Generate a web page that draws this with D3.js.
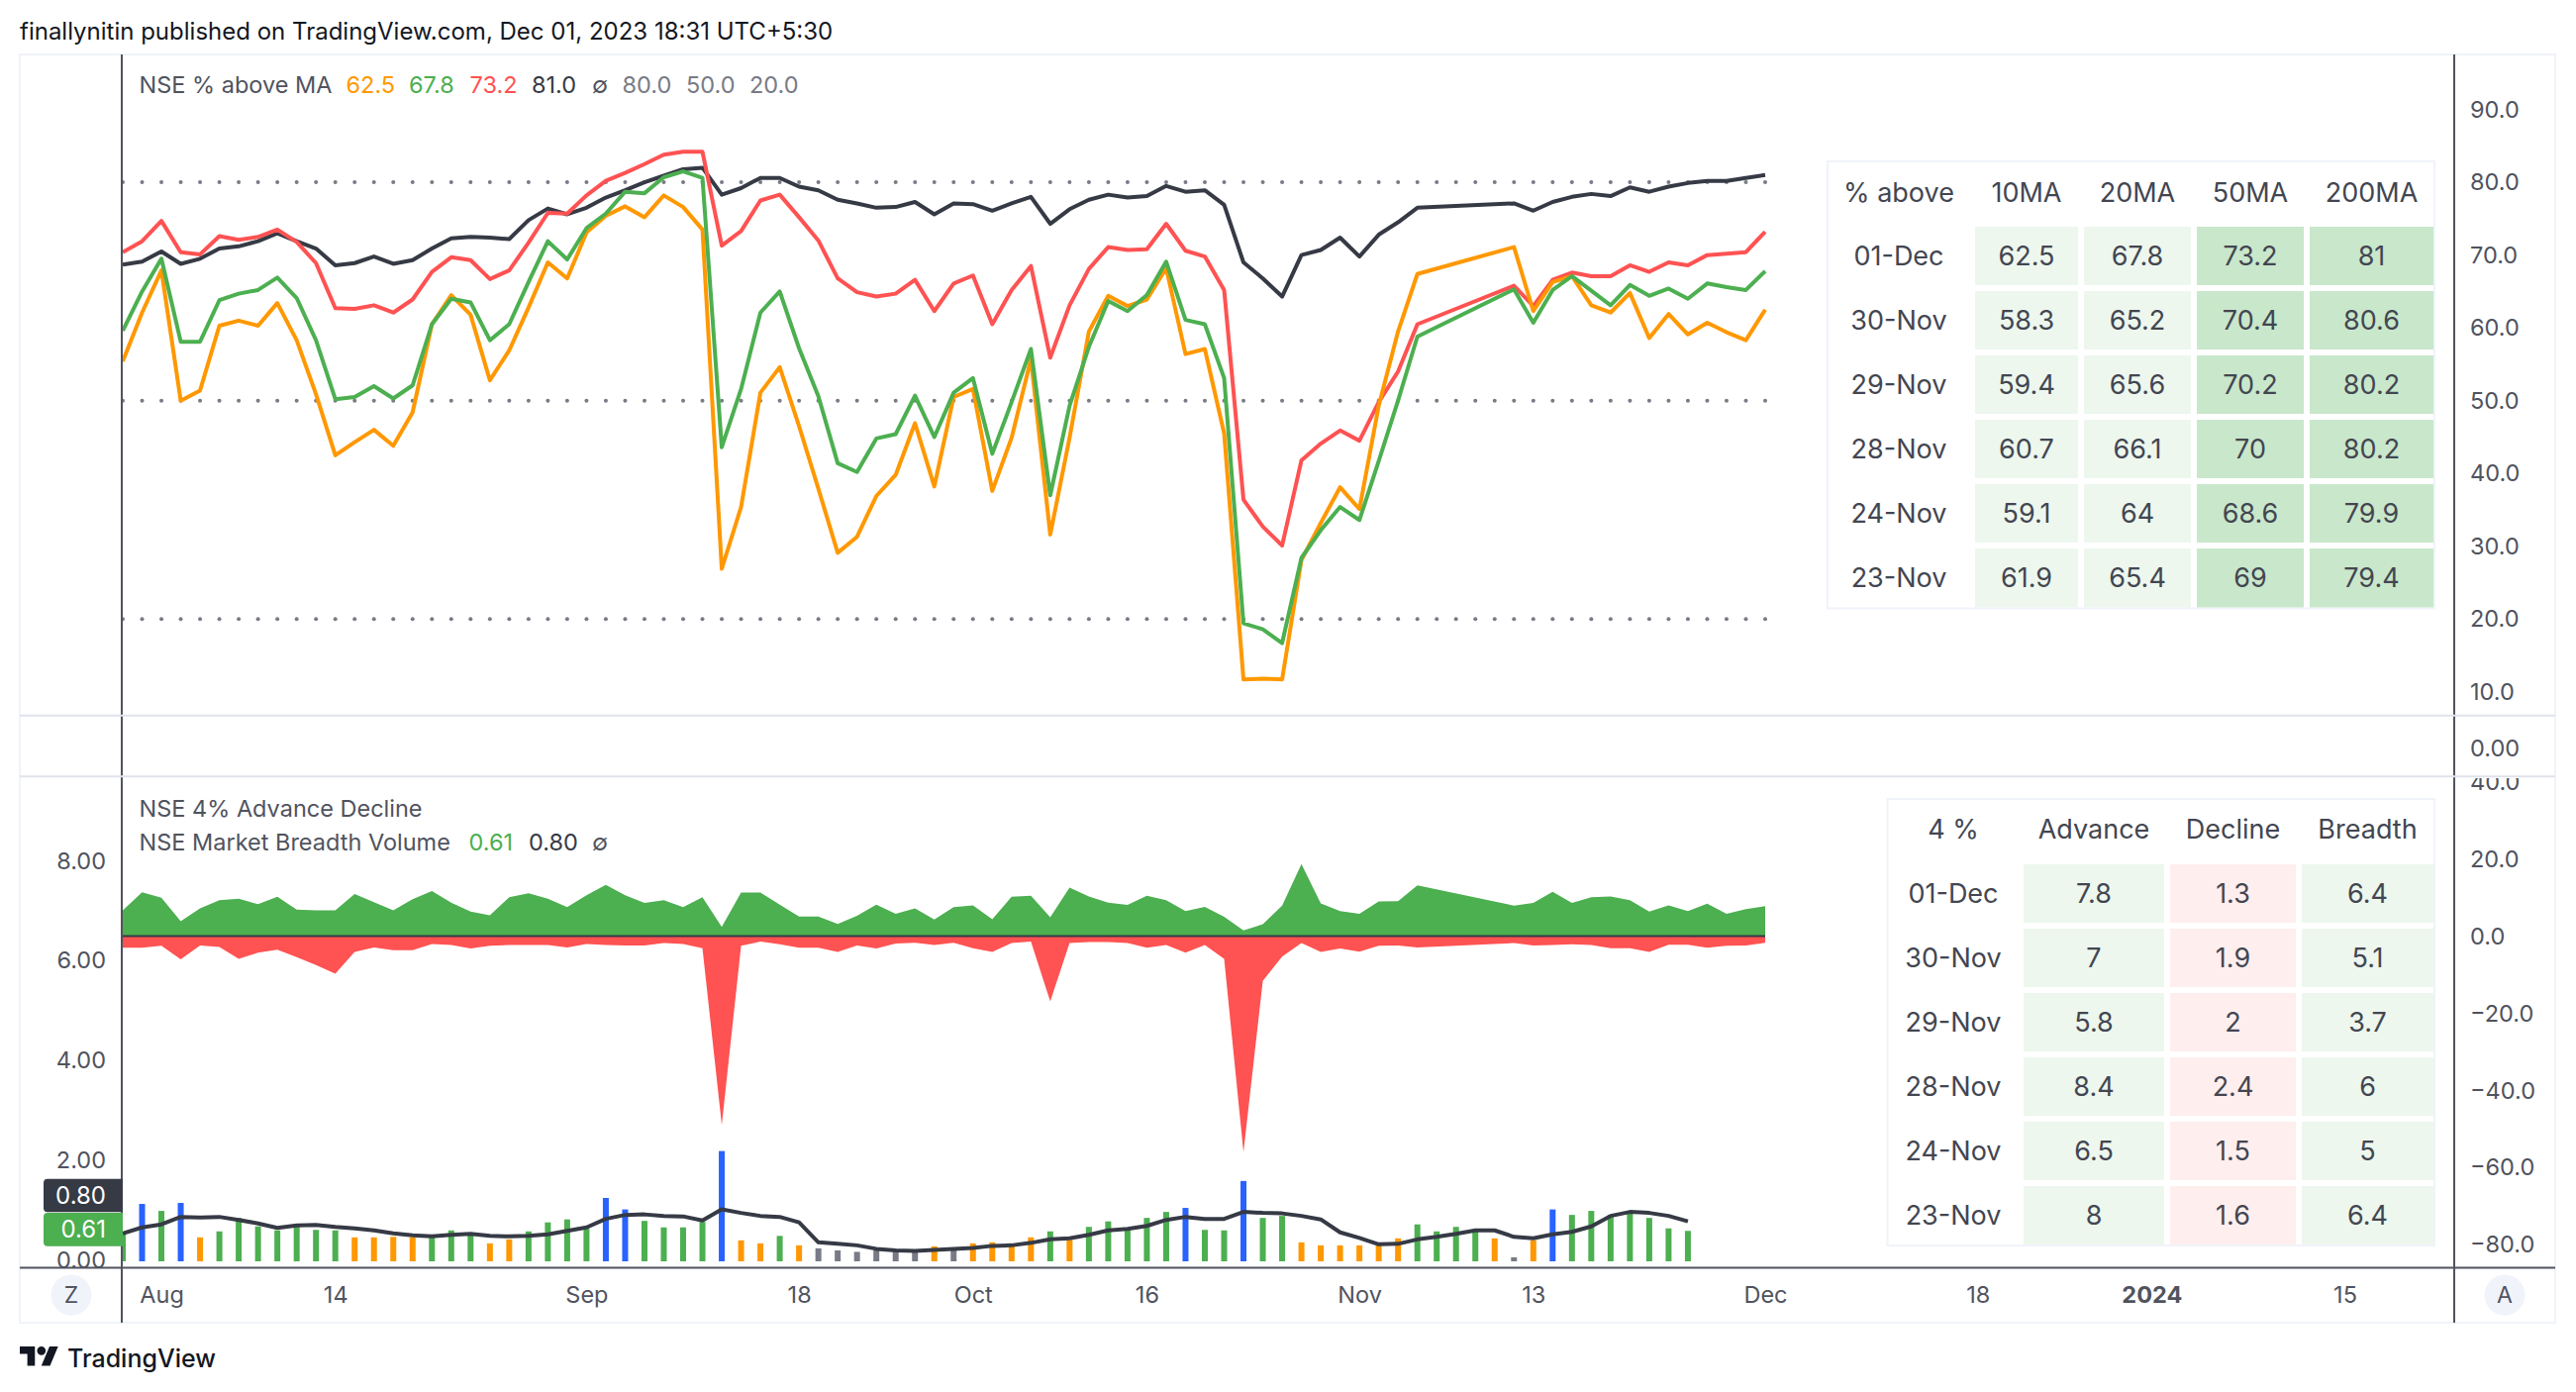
<!DOCTYPE html>
<html>
<head>
<meta charset="utf-8">
<script src="https://cdn.jsdelivr.net/npm/d3@7"></script>
<style>
  html, body { margin: 0; padding: 0; background: #fff; }
  svg { display: block; }
  text { font-family: Inter, "Noto Sans", sans-serif; }
</style>
</head>
<body>
<svg id="chart" width="2602" height="1406"></svg>
<script>
// trading days plotted in both panes; Nov 7-10 has no data in the source sheet
const days = [...d3.range(0, 68), ...d3.range(72, 86)];
const hlineDays = d3.range(0, 86);

const above10 = [
  55.4,62.1,67.9,50.0,51.4,60.3,61.0,60.3,63.4,58.3,
  50.9,42.5,44.3,46.0,43.8,48.4,60.5,64.5,61.8,52.8,
  56.9,62.8,69.0,66.8,73.1,75.4,76.7,75.2,78.2,76.6,
  73.5,26.9,35.4,51.1,54.6,46.5,37.9,29.1,31.3,36.9,
  39.8,46.9,38.2,50.5,51.6,37.6,44.9,55.7,31.6,44.9,
  59.5,64.4,63.0,63.9,68.2,56.4,57.1,45.5,11.7,11.8,
  11.7,28.1,33.2,38.1,35.1,49.3,59.5,67.4,
  71.1,62.3,66.3,67.1,63.1,62.1,64.8,58.6,
  61.9,59.1,60.7,59.4,58.3,62.5];
const above20 = [
  59.6,65.0,69.5,58.1,58.1,63.8,64.7,65.2,66.9,64.1,
  58.3,50.2,50.5,52.0,50.3,52.1,60.5,64.0,63.5,58.3,
  60.5,66.3,71.9,69.4,73.7,75.7,78.7,78.5,80.7,81.5,
  80.6,43.6,51.6,62.1,65.0,57.2,50.6,41.4,40.2,44.8,
  45.4,50.7,45.0,51.1,53.1,42.7,49.8,57.1,37.0,49.3,
  57.4,63.7,62.3,64.5,69.1,61.1,60.5,53.1,19.4,18.6,
  16.7,28.4,32.2,35.4,33.6,41.7,50.0,58.8,
  65.3,60.7,65.2,67.1,65.1,63.1,65.9,64.4,
  65.4,64,66.1,65.6,65.2,67.8];
const above50 = [
  70.4,71.9,74.7,70.4,70.1,72.6,72.1,72.5,73.5,71.8,
  68.9,62.7,62.6,63.1,62.1,63.9,67.7,69.7,69.3,66.7,
  67.9,71.7,75.8,75.7,78.2,80.2,81.3,82.5,83.8,84.2,
  84.2,71.3,73.3,77.5,78.3,75.2,72.0,66.8,64.9,64.3,
  64.7,66.6,62.3,66.1,67.2,60.5,65.2,68.5,55.9,63.1,
  68.1,71.1,70.7,70.8,74.3,70.6,69.8,65.2,36.4,32.7,
  30.1,41.8,44.1,45.9,44.5,49.8,54.0,60.5,
  65.8,63.0,66.6,67.6,67.1,67.1,68.6,67.7,
  69,68.6,70,70.2,70.4,73.2];
const above200 = [
  68.7,69.1,70.5,68.8,69.5,70.9,71.2,71.9,73.0,71.9,
  70.9,68.6,68.9,69.8,68.8,69.3,70.9,72.3,72.5,72.4,
  72.2,74.8,76.4,75.6,76.5,77.9,78.9,80.0,80.9,81.8,
  82.0,78.3,79.2,80.6,80.6,79.4,78.9,77.6,77.1,76.5,
  76.6,77.3,75.6,77.1,77.0,76.1,77.1,78.0,74.3,76.3,
  77.6,78.3,77.9,78.1,79.5,78.7,78.9,76.9,69.0,66.8,
  64.3,70.0,70.7,72.4,69.8,72.8,74.5,76.5,
  77.1,76.1,77.3,78.0,78.4,78.1,79.3,78.7,
  79.4,79.9,80.2,80.2,80.6,81.0];
const hlineLevels = [80, 50, 20];

const advance = [
  6.7,11.4,10.0,3.9,7.2,9.3,9.7,8.3,10.2,6.9,
  6.7,6.7,10.9,8.8,6.7,9.6,11.7,8.7,6.4,5.4,
  10.1,11.1,9.7,7.5,10.6,13.3,10.6,8.6,9.3,7.5,
  10.1,2.4,11.3,11.3,8.2,5.1,5.1,3.2,5.3,8.2,
  5.8,7.2,4.3,7.5,8.0,4.4,10.2,10.5,4.9,12.6,
  10.3,8.7,8.1,10.5,9.3,6.5,7.6,5.0,1.5,3.1,
  7.9,18.7,8.5,6.5,5.8,9.0,9.1,13.2,
  7.9,8.6,11.5,8.6,10.1,10.3,9.3,6.4,
  8,6.5,8.4,5.8,7,7.8];
const decline = [
  3.0,3.0,2.5,6.0,2.4,2.8,5.9,4.3,3.5,5.4,
  7.5,9.7,4.1,2.9,3.6,3.6,2.0,2.3,3.2,2.5,
  2.3,2.3,2.3,2.9,2.0,2.3,2.4,2.4,1.8,2.0,
  3.1,48.9,2.5,1.4,2.1,3.0,3.0,4.1,2.4,3.2,
  1.9,1.7,2.3,1.7,3.1,4.1,1.8,1.4,16.9,1.8,
  1.5,1.5,1.8,3.0,2.3,4.3,2.3,5.9,56.0,11.6,
  5.3,1.8,4.1,3.2,4.0,2.5,2.4,2.9,
  1.8,2.4,2.3,2.1,2.3,3.1,3.1,4.1,
  2.2,2.2,3.0,2.5,2.4,1.7];

// volume bars run without the gap, so they end four sessions early
const breadthVol = [
  .55,1.15,1.01,1.17,.48,.60,.87,.70,.62,.72,
  .63,.62,.48,.48,.49,.48,.52,.62,.53,.36,
  .44,.60,.78,.84,.66,1.27,1.04,.81,.68,.68,
  .79,2.21,.42,.36,.51,.32,.26,.22,.19,.22,
  .22,.21,.30,.24,.36,.38,.30,.48,.60,.43,
  .69,.80,.65,.87,.99,1.07,.63,.62,1.61,.87,
  .91,.38,.32,.32,.32,.32,.46,.74,.60,.69,
  .60,.46,.08,.42,1.04,.93,1.01,.93,.99,.87,
  .66,.61];
const breadthMa = [
  .56,.68,.74,.89,.88,.89,.83,.76,.67,.72,
  .73,.69,.66,.62,.56,.52,.50,.53,.55,.51,
  .50,.51,.54,.61,.68,.85,.93,.94,.91,.90,
  .82,1.04,.97,.91,.89,.78,.38,.35,.32,.25,
  .22,.21,.23,.25,.27,.31,.32,.37,.44,.46,
  .53,.62,.65,.71,.83,.89,.85,.85,.99,.97,
  .96,.91,.84,.58,.47,.34,.35,.44,.49,.55,
  .62,.62,.49,.46,.54,.59,.70,.91,.99,.97,
  .91,.80];

const timeTicks = [2, 11, 24, 35, 44, 53, 64, 73, 85, 96, 105, 115];
const timeLabels = ['Aug', '14', 'Sep', '18', 'Oct', '16', 'Nov', '13', 'Dec', '18', '2024', '15'];
const aboveTicks = [10, 20, 30, 40, 50, 60, 70, 80, 90];
const adTicks = [-80, -60, -40, -20, 0, 20, 40];
const volTicks = [0, 2, 4, 6, 8];

const tableDates = ['01-Dec', '30-Nov', '29-Nov', '28-Nov', '24-Nov', '23-Nov'];
const maHeaders = ['% above', '10MA', '20MA', '50MA', '200MA'];
const ma10Col = [62.5, 58.3, 59.4, 60.7, 59.1, 61.9];
const ma20Col = [67.8, 65.2, 65.6, 66.1, 64, 65.4];
const ma50Col = [73.2, 70.4, 70.2, 70, 68.6, 69];
const ma200Col = [81, 80.6, 80.2, 80.2, 79.9, 79.4];
const adHeaders = ['4 %', 'Advance', 'Decline', 'Breadth'];
const advCol = [7.8, 7, 5.8, 8.4, 6.5, 8];
const decCol = [1.3, 1.9, 2, 2.4, 1.5, 1.6];
const breadthCol = [6.4, 5.1, 3.7, 6, 5, 6.4];

const ORANGE = '#ff9800', GREEN = '#4caf50', RED = '#ff5252', DARK = '#363a45',
  BLUE = '#2962ff', GRAY = '#787b86', AXIS = '#50535e', INK = '#434651';

const svg = d3.select('#chart');
const defs = svg.append('defs');
const clip = (id, x, y, w, h) =>
  defs.append('clipPath').attr('id', id).append('rect')
    .attr('x', x).attr('y', y).attr('width', w).attr('height', h);
clip('pane1', 124, 55, 2354, 667);
clip('pane2', 124, 786, 2354, 494);
clip('rightAd', 2480, 786, 100, 494);
clip('leftVol', 21, 786, 102, 494);

const x = d3.scaleLinear().domain([0, 85]).range([124, 1783]);
const yAbove = d3.scaleLinear().domain([0, 90]).range([772.3, 110.6]);
const yEmpty = d3.scaleLinear().domain([0, 1]).range([755.5, 700]);
const yAd = d3.scaleLinear().domain([-80, 40]).range([1257.4, 789.7]);
const yVol = d3.scaleLinear().domain([0, 8]).range([1274, 870.8]);

svg.append('rect').attr('x', 20).attr('y', 55).attr('width', 2561).attr('height', 1281)
  .attr('fill', 'none').attr('stroke', '#f0f3fa').attr('stroke-width', 2);

// top pane
const topPane = svg.append('g').attr('clip-path', 'url(#pane1)');
hlineLevels.forEach(level => {
  topPane.append('g').selectAll('circle').data(hlineDays).join('circle')
    .attr('cx', d => x(d)).attr('cy', yAbove(level)).attr('r', 2).attr('fill', GRAY);
});
const lineAbove = d3.line().x((d, i) => x(days[i])).y(d => yAbove(d));
[[above200, DARK], [above50, RED], [above10, ORANGE], [above20, GREEN]].forEach(([values, color]) => {
  topPane.append('path').attr('d', lineAbove(values)).attr('fill', 'none')
    .attr('stroke', color).attr('stroke-width', 4).attr('stroke-linejoin', 'round');
});

// bottom pane
const bottomPane = svg.append('g').attr('clip-path', 'url(#pane2)');
const barColor = v => v >= 1.02 ? BLUE : v >= 0.5 ? GREEN : v >= 0.28 ? ORANGE : GRAY;
bottomPane.append('g').selectAll('rect').data(breadthVol).join('rect')
  .attr('x', (d, i) => x(i) - 3).attr('width', 6)
  .attr('y', d => yVol(d)).attr('height', d => yVol(0) - yVol(d))
  .attr('fill', barColor);
bottomPane.append('path')
  .attr('d', d3.line().x((d, i) => x(i)).y(d => yVol(d))(breadthMa))
  .attr('fill', 'none').attr('stroke', DARK).attr('stroke-width', 4).attr('stroke-linejoin', 'round');
bottomPane.append('path')
  .attr('d', d3.area().x((d, i) => x(days[i])).y0(yAd(0)).y1(d => yAd(d))(advance))
  .attr('fill', GREEN);
bottomPane.append('path')
  .attr('d', d3.area().x((d, i) => x(days[i])).y0(yAd(0)).y1(d => yAd(-d))(decline))
  .attr('fill', RED);
bottomPane.append('line').attr('x1', x(0)).attr('x2', x(85)).attr('y1', yAd(0)).attr('y2', yAd(0))
  .attr('stroke', DARK).attr('stroke-width', 2);

// axes
const styleAxis = (g, size) => {
  g.select('.domain').remove();
  g.selectAll('line').remove();
  g.selectAll('text').attr('fill', AXIS).attr('font-size', size).attr('font-family', 'Inter');
};
const rightX = 2495;
svg.append('g').attr('transform', `translate(${rightX},0)`)
  .call(d3.axisRight(yAbove).tickValues(aboveTicks).tickFormat(d3.format('.1f')).tickSize(0).tickPadding(0))
  .call(styleAxis, 23.5);
svg.append('g').attr('transform', `translate(${rightX},0)`)
  .call(d3.axisRight(yEmpty).tickValues([0]).tickFormat(d3.format('.2f')).tickSize(0).tickPadding(0))
  .call(styleAxis, 23.5);
svg.append('g').attr('clip-path', 'url(#rightAd)').append('g').attr('transform', `translate(${rightX},0)`)
  .call(d3.axisRight(yAd).tickValues(adTicks).tickFormat(d3.format('.1f')).tickSize(0).tickPadding(0))
  .call(styleAxis, 23.5);
svg.append('g').attr('clip-path', 'url(#leftVol)').append('g').attr('transform', 'translate(107,-1.2)')
  .call(d3.axisLeft(yVol).tickValues(volTicks).tickFormat(d3.format('.2f')).tickSize(0).tickPadding(0))
  .call(styleAxis, 23.5);

const timeAxis = svg.append('g').attr('transform', 'translate(0,1299)')
  .call(d3.axisBottom(x).tickValues(timeTicks).tickFormat(d => timeLabels[timeTicks.indexOf(d)]).tickSize(0).tickPadding(0))
  .call(styleAxis, 23.5);
timeAxis.selectAll('text').attr('font-weight', d => d === 105 ? 700 : 400);

svg.append('line').attr('x1', 123).attr('x2', 123).attr('y1', 55).attr('y2', 1336)
  .attr('stroke', AXIS).attr('stroke-width', 2);
svg.append('line').attr('x1', 2479).attr('x2', 2479).attr('y1', 55).attr('y2', 1336)
  .attr('stroke', AXIS).attr('stroke-width', 2);
svg.append('line').attr('x1', 20).attr('x2', 2581).attr('y1', 1280.5).attr('y2', 1280.5)
  .attr('stroke', AXIS).attr('stroke-width', 2);
[722.7, 784.3].forEach(dy => {
  svg.append('line').attr('x1', 20).attr('x2', 2581).attr('y1', dy).attr('y2', dy)
    .attr('stroke', '#e0e3eb').attr('stroke-width', 2);
});

// badges on the left scale
[[DARK, 1190.7, 33.6, '0.80'], [GREEN, 1224.9, 33.8, '0.61']].forEach(([color, by, bh, label]) => {
  svg.append('path').attr('fill', color)
    .attr('d', `M124,${by}H48a4,4 0 0 0 -4,4V${by + bh - 4}a4,4 0 0 0 4,4H124Z`);
  svg.append('text').attr('x', 107).attr('y', by + 17).attr('dy', '.35em').attr('text-anchor', 'end')
    .attr('font-size', 24).attr('fill', '#fff').text(label);
});

// legends
const legend = (items, y) => {
  svg.append('g').selectAll('text').data(items).join('text')
    .attr('x', d => d[1]).attr('y', y).attr('dy', '.35em')
    .attr('font-size', 23.5).attr('fill', d => d[2]).text(d => d[0]);
};
legend([
  ['NSE % above MA', 140.5, AXIS], ['62.5', 349.5, ORANGE], ['67.8', 413, GREEN], ['73.2', 474.5, RED],
  ['81.0', 537, DARK], ['∅', 598, AXIS], ['80.0', 628.5, GRAY], ['50.0', 693, GRAY], ['20.0', 757, GRAY]
], 86);
legend([['NSE 4% Advance Decline', 140.5, AXIS]], 816.5);
legend([['NSE Market Breadth Volume', 140.5, AXIS], ['0.61', 473.5, GREEN], ['0.80', 534, DARK], ['∅', 598, AXIS]], 850.5);

// tables
function drawTable(box, labelX, colEdges, rowEdges, headerY, headers, columns, fills) {
  const g = svg.append('g');
  g.append('rect').attr('x', box[0]).attr('y', box[1]).attr('width', box[2] - box[0]).attr('height', box[3] - box[1])
    .attr('fill', '#fff').attr('stroke', '#f0f3fa').attr('stroke-width', 2);
  const addText = (tx, ty, t) => g.append('text').attr('x', tx).attr('y', ty).attr('dy', '.35em')
    .attr('text-anchor', 'middle').attr('font-size', 27).attr('fill', INK).text(t);
  const mid = e => (e[0] + e[1]) / 2;
  addText(labelX, headerY, headers[0]);
  columns.forEach((col, c) => {
    addText(mid(colEdges[c]), headerY, headers[c + 1]);
    col.forEach((v, r) => {
      g.append('rect').attr('x', colEdges[c][0]).attr('y', rowEdges[r][0])
        .attr('width', colEdges[c][1] - colEdges[c][0]).attr('height', rowEdges[r][1] - rowEdges[r][0])
        .attr('fill', fills[c]);
      addText(mid(colEdges[c]), mid(rowEdges[r]), String(v));
    });
  });
  tableDates.forEach((d, r) => addText(labelX, mid(rowEdges[r]), d));
}
drawTable([1846, 163, 2459, 614.5], 1918,
  [[1995, 2099], [2105, 2213], [2219, 2327], [2333, 2458]],
  [[229, 288], [294, 353], [359, 418], [424, 483], [489, 548], [554, 613.5]],
  194.5, maHeaders, [ma10Col, ma20Col, ma50Col, ma200Col], ['#edf7ee', '#edf7ee', '#c9e7cb', '#c9e7cb']);
drawTable([1906.5, 807, 2459, 1258], 1973,
  [[2044, 2186], [2192, 2319], [2325, 2458]],
  [[873, 932], [938, 997], [1003, 1062], [1068, 1127], [1133, 1192], [1198, 1257]],
  838, adHeaders, [advCol, decCol, breadthCol], ['#edf7ee', '#ffeeee', '#edf7ee']);

// scale buttons
[[72, 'Z'], [2530, 'A']].forEach(([cx, t]) => {
  svg.append('circle').attr('cx', cx).attr('cy', 1308).attr('r', 20.5).attr('fill', '#f0f3fa');
  svg.append('text').attr('x', cx).attr('y', 1308).attr('dy', '.35em').attr('text-anchor', 'middle')
    .attr('font-size', 23).attr('fill', AXIS).text(t);
});

// header and logo
svg.append('text').attr('x', 20).attr('y', 32).attr('dy', '.35em').attr('font-size', 24).attr('fill', '#131722')
  .text('finallynitin published on TradingView.com, Dec 01, 2023 18:31 UTC+5:30');
svg.append('path').attr('transform', 'translate(20,1355.6) scale(1.09)')
  .attr('fill', '#131722')
  .attr('d', 'M14 22H7V11H0V4h14v18zM28 22h-8l7.5-18h8L28 22z M24 8a4 4 0 1 1 -8 0a4 4 0 1 1 8 0z');
svg.append('text').attr('x', 68).attr('y', 1372).attr('dy', '.35em').attr('font-size', 25).attr('font-weight', 500)
  .attr('fill', '#131722').text('TradingView');
</script>
</body>
</html>
